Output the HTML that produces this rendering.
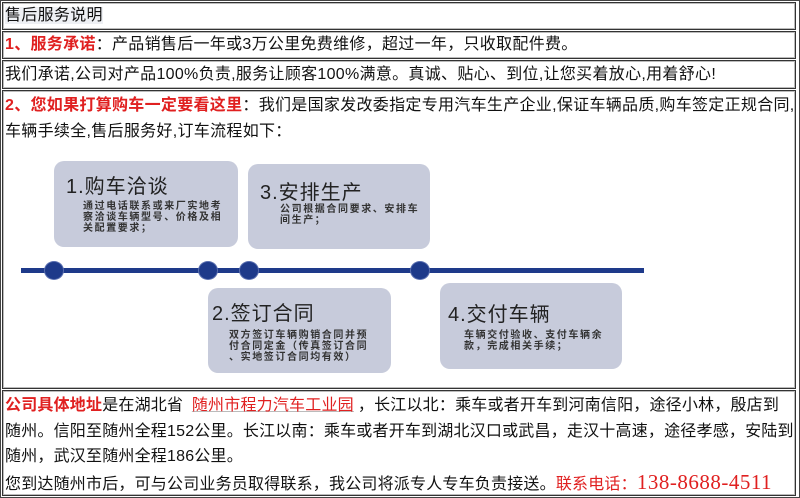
<!DOCTYPE html>
<html><head><meta charset="utf-8"><style>
body{margin:0;width:800px;height:498px;background:#fff;font-family:"Liberation Sans","Noto Sans CJK SC",sans-serif;color:#111;position:relative;overflow:hidden}
.outer{position:absolute;left:0;top:0;width:798px;height:496px;border:1px solid #444}
.c{position:absolute;left:2px;width:794px;border:1px solid #333;box-sizing:border-box;box-shadow:0 0 0 1px #bbb inset;font-size:16px;line-height:26px;padding-left:2px;letter-spacing:0.3px;white-space:nowrap;overflow:hidden}
.r{color:#e02020}
.box{position:absolute;background:#c7cbdb;border-radius:10px}
.box b{position:absolute;font-weight:normal;font-size:20px;line-height:22px;color:#222;white-space:nowrap;letter-spacing:1px}
.box i{position:absolute;font-style:normal;font-size:10px;line-height:11px;color:#333;font-weight:bold;letter-spacing:1.6px;white-space:nowrap}
.dot{position:absolute;width:18px;height:17px;border-radius:50%;background:#1e3a8a;box-shadow:0 0 0 1px #5a6fb0}
</style></head><body>
<div class="outer"></div>
<div class="c" style="top:2px;height:28px"><span style="background:#eef0f4">售后服务说明</span></div>
<div class="c" style="top:31px;height:28px"><span class="r" style="font-weight:bold">1、服务承诺</span>：产品销售后一年或3万公里免费维修，超过一年，只收取配件费。</div>
<div class="c" style="top:60px;height:29px;padding-top:1px">我们承诺,公司对产品100%负责,服务让顾客100%满意。真诚、贴心、到位,让您买着放心,用着舒心!</div>
<div class="c" style="top:90px;height:299px;padding-top:2px"><span class="r" style="font-weight:bold">2、您如果打算购车一定要看这里</span>：我们是国家发改委指定专用汽车生产企业,保证车辆品质,购车签定正规合同,<br>车辆手续全,售后服务好,订车流程如下：</div>
<div class="c" style="top:390px;height:106px;line-height:25.5px;padding-top:2px;letter-spacing:0.2px"><span class="r" style="font-weight:bold">公司具体地址</span>是在湖北省 <span class="r" style="text-decoration:underline;text-decoration-color:#bbb;padding:0 4px">随州市程力汽车工业园</span>，长江以北：乘车或者开车到河南信阳，途径小林，殷店到<br>随州。信阳至随州全程152公里。长江以南：乘车或者开车到湖北汉口或武昌，走汉十高速，途径孝感，安陆到<br>随州，武汉至随州全程186公里。<br>您到达随州市后，可与公司业务员取得联系，我公司将派专人专车负责接送。<span class="r">联系电话：<span style="font-family:'Liberation Serif',serif;font-size:21px;letter-spacing:0.5px">138-8688-4511</span></span></div>

<div style="position:absolute;left:21px;top:268px;width:623px;height:5px;background:#1e3a8a"></div>
<div class="dot" style="left:45px;top:262px"></div>
<div class="dot" style="left:199px;top:262px"></div>
<div class="dot" style="left:240px;top:262px"></div>
<div class="dot" style="left:411px;top:262px"></div>

<div class="box" style="left:54px;top:161px;width:184px;height:86px"><b style="left:12px;top:15px">1.购车洽谈</b><i style="left:29px;top:40px">通过电话联系或来厂实地考<br>察洽谈车辆型号、价格及相<br>关配置要求；</i></div>
<div class="box" style="left:248px;top:164px;width:182px;height:85px"><b style="left:12px;top:18px">3.安排生产</b><i style="left:32px;top:40px">公司根据合同要求、安排车<br>间生产；</i></div>
<div class="box" style="left:208px;top:288px;width:183px;height:85px"><b style="left:4px;top:15px">2.签订合同</b><i style="left:21px;top:42px">双方签订车辆购销合同并预<br>付合同定金（传真签订合同<br>、实地签订合同均有效）</i></div>
<div class="box" style="left:440px;top:283px;width:182px;height:86px"><b style="left:8px;top:21px">4.交付车辆</b><i style="left:24px;top:47px">车辆交付验收、支付车辆余<br>款，完成相关手续；</i></div>
</body></html>
